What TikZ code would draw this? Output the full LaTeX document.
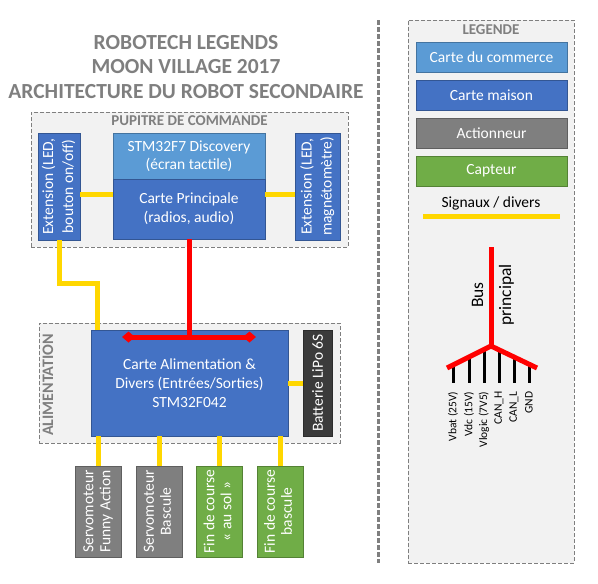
\documentclass[tikz,border=0pt]{standalone}
\usepackage{fontspec}
\setmainfont{Carlito}
\usepackage{graphicx}
\usetikzlibrary{arrows.meta}

\definecolor{commerce}{HTML}{5B9BD5}
\definecolor{maison}{HTML}{4472C4}
\definecolor{actionneur}{HTML}{7F7F7F}
\definecolor{capteur}{HTML}{70AD47}
\definecolor{batterie}{HTML}{3B3B3B}
\definecolor{jaune}{HTML}{FFD700}
\definecolor{fond}{HTML}{F2F2F2}
\definecolor{gris}{HTML}{7F7F7F}

\newcommand{\fs}[2]{\fontsize{#1}{#2}\selectfont}
\newcommand{\vtexte}[1]{\rotatebox{90}{\begin{tabular}{@{}c@{}}#1\end{tabular}}}

\begin{document}
\begin{tikzpicture}[x=1pt, y=-1pt,
  carte/.style={draw=#1!75!black, fill=#1, text=white, inner sep=0pt, align=center, font=\fs{15.5}{19}},
  groupe/.style={draw=gris, dash pattern=on 4pt off 2pt, fill=fond, inner sep=0pt},
  titre/.style={text=gris, font=\bfseries\fs{15}{17}},
  signal/.style={draw=jaune, line width=5pt},
  bus/.style={draw=red, line width=5pt},
  fil/.style={draw=black, line width=3pt}]
   \useasboundingbox (0,0) rectangle (598,584);

   \node[text=gris, font=\bfseries\fs{21.5}{24.5}, align=center] (titre) at (186,67)
     {ROBOTECH LEGENDS\\MOON VILLAGE 2017\\ARCHITECTURE DU ROBOT SECONDAIRE};
   \draw[gris, line width=3pt, dash pattern=on 5pt off 2pt] (378,20) -- (378,563);

   % pupitre de commande
   \node[groupe, minimum width=317pt, minimum height=135pt] (pupitre) at (189.5,179.5) {};
   \node[titre, anchor=north] at ([yshift=-0.5pt]pupitre.north) {PUPITRE DE COMMANDE};
   \node[carte=maison, minimum width=42pt, minimum height=107pt, font=\fs{15.5}{20}] (extL) at (59,186.5)
     {\vtexte{Extension (LED,\\bouton on/off)}};
   \node[carte=commerce, minimum width=152pt, minimum height=46pt, font=\fs{15.5}{18}] (disco) at (189,156)
     {STM32F7 Discovery\\(écran tactile)};
   \node[carte=maison, minimum width=152pt, minimum height=60pt] (cp) at (189,209)
     {Carte Principale\\(radios, audio)};
   \node[carte=maison, minimum width=45pt, minimum height=107pt, font=\fs{15.5}{20}] (extR) at (317.5,186.5)
     {\vtexte{Extension (LED,\\magnétomètre)}};

   % alimentation
   \node[groupe, minimum width=301pt, minimum height=120pt] (alimgrp) at (189.5,383) {};
   \node[titre, rotate=90, font=\bfseries\fs{16}{18}] at (48,385) {ALIMENTATION};
   \node[carte=maison, minimum width=197pt, minimum height=106pt] (alim) at (189.5,383)
     {Carte Alimentation \&\\Divers (Entrées/Sorties)\\STM32F042};
   \node[carte=batterie, minimum width=29pt, minimum height=106pt] (batt) at (317.5,383)
     {\rotatebox{90}{Batterie LiPo 6S}};

   \foreach \nom/\x/\coul/\txt in {servoA/98.5/actionneur/{Servomoteur\\Funny Action},
       servoB/159/actionneur/{Servomoteur\\Bascule}, finA/219.5/capteur/{Fin de course\\« au sol »},
       finB/280/capteur/{Fin de course\\bascule}}
     \node[carte=\coul, minimum width=46pt, minimum height=91pt, font=\fs{15.5}{17}] (\nom) at (\x,511.5) {\vtexte{\txt}};

   \draw[signal] ([yshift=-7.5pt]extL.east) -- ([yshift=-7.5pt]extL.east -| cp.west);
   \draw[signal] ([yshift=-7.5pt]extR.west) -- ([yshift=-7.5pt]extR.west -| cp.east);
   \draw[signal] (extL.south) -- ++(0,43) -| ([xshift=7pt]alim.north west);
   \draw[signal] (alim.east) -- (batt.west);
   \foreach \nom in {servoA,servoB,finA,finB}
     \draw[signal] (\nom.north) -- (\nom.north |- alim.south);

   \coordinate (busL) at (122,337);
   \coordinate (busR) at (256,337);
   \draw[bus] (cp.south) -- (cp.south |- busL);
   \draw[bus, {Diamond[length=13pt,width=11pt]}-{Diamond[length=13pt,width=11pt]}] (busL) -- (busR);

   % legende
   \node[groupe, minimum width=166pt, minimum height=543pt] (legende) at (491,291.5) {};
   \node[titre, anchor=north] at ([yshift=-1.5pt]legende.north) {LEGENDE};
   \node[carte=commerce, minimum width=151pt, minimum height=30pt] (lcom) at (491.5,57.5) {Carte du commerce};
   \node[carte=maison, minimum width=151pt, minimum height=30pt] (lmai) at (491.5,95) {Carte maison};
   \node[carte=actionneur, minimum width=151pt, minimum height=30pt] (lact) at (491.5,133) {Actionneur};
   \node[carte=capteur, minimum width=151pt, minimum height=30pt] (lcap) at (491.5,171) {Capteur};
   \node[font=\fs{15.5}{17}] (lsig) at (491,203) {Signaux / divers};
   \coordinate (sigA) at (423,216);
   \coordinate (sigB) at (560,216);
   \draw[signal] (sigA) -- (sigB);

   % bus principal
   \coordinate (busH) at (491,247);
   \coordinate (busC) at (491,346);
   \coordinate (busG) at (447,368);
   \coordinate (busD) at (537,368);
   \foreach \x/\y/\txt in {453/365/Vbat (25V), 469/357/Vdc (15V), 484/350/Vlogic (7V5),
       499/350/CAN\_H, 514/357/CAN\_L, 529/365/GND} {
     \draw[fil] (\x,\y) -- (\x,383);
     \node[rotate=90, anchor=east, font=\fs{11.5}{12}] at (\x,388) {\txt};
   }
   \draw[bus] (busH) -- (busC);
   \draw[bus] (busG) -- (busC) -- (busD);
   \node[rotate=90, align=center, font=\fs{17.5}{28}] (buslbl) at (493,295) {Bus\\principal};
\end{tikzpicture}
\end{document}
